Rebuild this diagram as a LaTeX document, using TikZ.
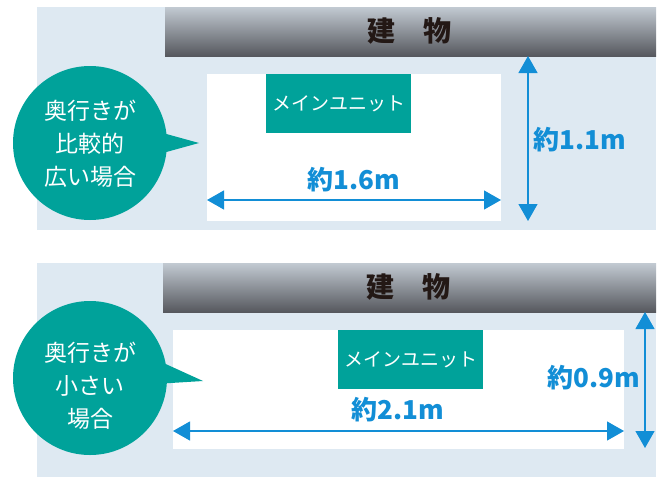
\documentclass[tikz,border=0pt]{standalone}
\usepackage{fontspec}
\setmainfont{Noto Sans CJK JP}
\usetikzlibrary{arrows.meta}
\definecolor{bgblue}{RGB}{222,233,242}
\definecolor{wallT}{RGB}{194,202,210}
\definecolor{wallB}{RGB}{86,88,94}
\definecolor{teal1}{RGB}{0,162,154}
\definecolor{dimblue}{RGB}{18,142,214}
\definecolor{walltxt}{RGB}{35,24,21}
\begin{document}
\begin{tikzpicture}[x=1pt,y=-1pt,
  panel/.style={fill=bgblue, inner sep=0pt, outer sep=0pt, anchor=north west},
  wall/.style={top color=wallT, bottom color=wallB, inner sep=0pt, outer sep=0pt, anchor=north west},
  area/.style={fill=white, inner sep=0pt, outer sep=0pt, anchor=north west},
  unit/.style={fill=teal1, text=white, inner sep=0pt, outer sep=0pt, anchor=north west, minimum width=145pt, minimum height=59pt, font=\fontsize{19}{19}\selectfont},
  bubble/.style={circle, fill=teal1, minimum size=154pt, inner sep=0pt},
  bubbletext/.style={text=white, align=center, font=\fontsize{23}{33}\selectfont},
  walltext/.style={text=walltxt, font=\bfseries\fontsize{28}{28}\selectfont},
  dimlabel/.style={text=dimblue, font=\bfseries\fontsize{26}{26}\selectfont},
  dimarrow/.style={draw=dimblue, line width=1.2pt, {Triangle[length=17pt,width=19pt]}-{Triangle[length=17pt,width=19pt]}},
]
\useasboundingbox (0,0) rectangle (659,477);
% ---------- top panel ----------
\node[panel, minimum width=619pt, minimum height=223pt] (bg1) at (37,7) {};
\node[wall, minimum width=491pt, minimum height=49pt] (wall1) at (165,7) {};
\node[walltext] (wt1) at (409,31) {建　物};
\node[area, minimum width=294pt, minimum height=147pt] (area1) at (207,74) {};
\node[unit] (unit1) at (266,74) {メインユニット};
\node[bubble] (bub1) at (90,143) {};
\coordinate (tip1) at (199,143);
\fill[teal1] ([shift={(7:76)}]bub1.center) -- (tip1) -- ([shift={(-7:76)}]bub1.center) -- cycle;
\node[bubbletext] (bt1) at (90,144) {奥行きが\\比較的\\広い場合};
\coordinate (h1a) at (207,200);
\coordinate (h1b) at (501,200);
\draw[dimarrow] (h1a) -- (h1b);
\node[dimlabel] (d1) at (354,180) {約1.6m};
\coordinate (v1a) at (528,56);
\coordinate (v1b) at (528,221);
\draw[dimarrow] (v1a) -- (v1b);
\node[dimlabel] (d2) at (580,140) {約1.1m};
% ---------- bottom panel ----------
\node[panel, minimum width=619pt, minimum height=214pt] (bg2) at (37,263) {};
\node[wall, minimum width=493pt, minimum height=49pt] (wall2) at (163,263) {};
\node[walltext] (wt2) at (408,287) {建　物};
\node[area, minimum width=451pt, minimum height=119pt] (area2) at (173,330) {};
\node[unit] (unit2) at (338,330) {メインユニット};
\node[bubble] (bub2) at (90,378) {};
\coordinate (tip2) at (203,381);
\fill[teal1] ([shift={(4:76)}]bub2.center) -- (tip2) -- ([shift={(-11:76)}]bub2.center) -- cycle;
\node[bubbletext] (bt2) at (90,386) {奥行きが\\小さい\\場合};
\coordinate (h2a) at (173,431);
\coordinate (h2b) at (624,431);
\draw[dimarrow] (h2a) -- (h2b);
\node[dimlabel] (d3) at (398,410) {約2.1m};
\coordinate (v2a) at (645,312);
\coordinate (v2b) at (645,448);
\draw[dimarrow] (v2a) -- (v2b);
\node[dimlabel] (d4) at (594,378) {約0.9m};
\end{tikzpicture}
\end{document}
